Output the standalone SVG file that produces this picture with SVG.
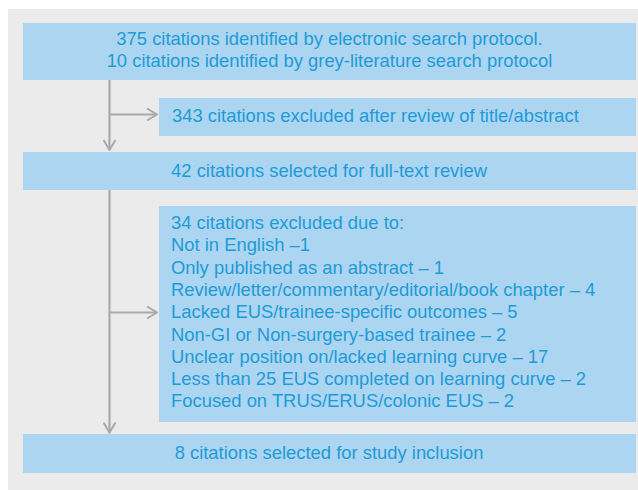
<svg xmlns="http://www.w3.org/2000/svg" width="638" height="490" viewBox="0 0 638 490">
<defs>
<style>
.box{fill:#acd5f1;}
.t{font-family:"Liberation Sans",Arial,sans-serif;font-size:18.4px;fill:#1e9bd7;}
.c{text-anchor:middle;}
.ln{stroke:#a7a9ac;stroke-width:2.2;fill:none;}
</style>
<marker id="ah" viewBox="0 0 12 14" refX="11" refY="7" markerWidth="12" markerHeight="14" markerUnits="userSpaceOnUse" orient="auto">
<path d="M1,1 L11,7 L1,13" fill="none" stroke="#a7a9ac" stroke-width="2"/>
</marker>
</defs>
<rect x="0" y="0" width="638" height="490" fill="#ffffff"/>
<rect x="8" y="9" width="630" height="481" fill="#ebebeb"/>
<g id="connectors">
<path class="ln" d="M109.5,80 V150" marker-end="url(#ah)"/>
<path class="ln" d="M109.5,114.5 H157" marker-end="url(#ah)"/>
<path class="ln" d="M109.5,190 V432.5" marker-end="url(#ah)"/>
<path class="ln" d="M109.5,312.5 H157" marker-end="url(#ah)"/>
</g>
<g id="n1">
<rect class="box" x="23" y="23" width="613" height="57"/>
<text class="t c" x="329.5" y="45">375 citations identified by electronic search protocol.</text>
<text class="t c" x="329.5" y="67">10 citations identified by grey-literature search protocol</text>
</g>
<g id="n2">
<rect class="box" x="159" y="98" width="477" height="38"/>
<text class="t" x="172" y="122">343 citations excluded after review of title/abstract</text>
</g>
<g id="n3">
<rect class="box" x="23" y="152" width="613" height="38"/>
<text class="t c" x="329" y="177">42 citations selected for full-text review</text>
</g>
<g id="n4">
<rect class="box" x="159" y="206" width="477" height="216"/>
<text class="t" x="171" y="229">34 citations excluded due to:</text>
<text class="t" x="171" y="251.3">Not in English –1</text>
<text class="t" x="171" y="273.6">Only published as an abstract – 1</text>
<text class="t" x="171" y="295.9">Review/letter/commentary/editorial/book chapter – 4</text>
<text class="t" x="171" y="318.2">Lacked EUS/trainee-specific outcomes – 5</text>
<text class="t" x="171" y="340.5">Non-GI or Non-surgery-based trainee – 2</text>
<text class="t" x="171" y="362.8">Unclear position on/lacked learning curve – 17</text>
<text class="t" x="171" y="385.1">Less than 25 EUS completed on learning curve – 2</text>
<text class="t" x="171" y="407.4">Focused on TRUS/ERUS/colonic EUS – 2</text>
</g>
<g id="n5">
<rect class="box" x="23" y="434" width="613" height="39"/>
<text class="t c" x="329" y="459">8 citations selected for study inclusion</text>
</g>
</svg>
